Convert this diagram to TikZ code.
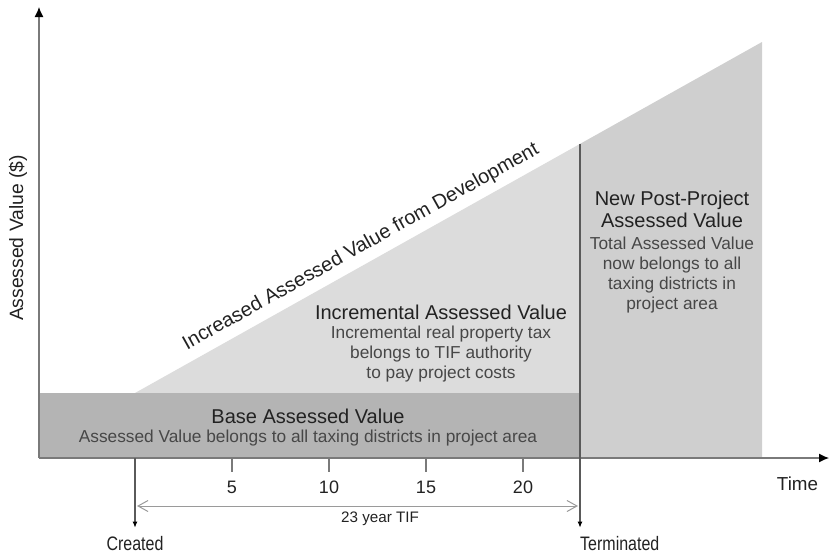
\documentclass[tikz,border=0pt]{standalone}
\usepackage{fontspec}
\setmainfont{Liberation Sans}
\newfontfamily\narrowfont[FakeStretch=0.82]{Liberation Sans}
\usetikzlibrary{arrows.meta}

\definecolor{baseGray}{HTML}{B4B4B4}
\definecolor{incrGray}{HTML}{DCDCDC}
\definecolor{postGray}{HTML}{CFCFCF}
\definecolor{axisGray}{HTML}{7A7A7A}
\definecolor{markGray}{HTML}{5A5A5A}
\definecolor{dimGray}{HTML}{9A9A9A}
\definecolor{textDark}{HTML}{222222}
\definecolor{textSoft}{HTML}{474747}

\begin{document}
\begin{tikzpicture}[
    x=1pt, y=-1pt,
    titlenode/.style={font=\fontsize{20}{22}\selectfont, text=textDark, align=center, inner sep=0pt},
    notenode/.style={font=\fontsize{17.3}{20}\selectfont, text=textSoft, align=center, inner sep=0pt},
    ticknode/.style={font=\fontsize{18}{20}\selectfont, text=textDark, inner sep=0pt},
    eventnode/.style={font=\narrowfont\fontsize{19.5}{22}\selectfont, text=textDark, inner sep=0pt},
    axisline/.style={axisGray, line width=1.2pt},
    markline/.style={markGray, line width=1.1pt, -{Latex[length=6pt, width=5pt, color=black]}}
]
\useasboundingbox (0,0) rectangle (829,557);

% Key points
\coordinate (origin) at (39,458);
\coordinate (ytop) at (39,7);
\coordinate (xend) at (829,458);
\coordinate (start) at (135,458);
\coordinate (peak) at (580,143.9);
\coordinate (tifstart) at (137,506);
\coordinate (tifend) at (578,506);

% Value areas
\fill[incrGray] (135,393) -- (peak) -- (580,393) -- cycle;
\fill[postGray] (peak) -- (762,42) -- (762,458) -- (580,458) -- cycle;
\fill[baseGray] (39,393) rectangle (580,458);

% Axes
\draw[axisline, -{Latex[length=10pt, width=9pt, color=black]}] (origin) -- (ytop);
\draw[axisline, -{Latex[length=10pt, width=9pt, color=black]}] (origin) -- (xend);

% Year ticks
\foreach \x/\yr in {232/5, 329/10, 426/15, 523/20} {
    \draw[axisline] (\x,458) -- (\x,472);
    \node[ticknode] (tick\yr) at (\x,487) {\yr};
}

% Axis labels
\node[ticknode, font=\fontsize{18.8}{20}\selectfont] (timelabel) at (797.5,484) {Time};
\node[ticknode, font=\fontsize{19.3}{20}\selectfont, rotate=90] (valuelabel) at (18,238) {Assessed Value (\$)};

% Created / Terminated
\node[eventnode] (created) at (135,544) {Created};
\node[eventnode, anchor=west] (terminated) at (580,544) {Terminated};
\draw[markline] (start) -- ([yshift=9pt]created.north);
\draw[markline] (peak) -- ([yshift=9pt]terminated.north west);

% TIF period
\draw[dimGray, line width=1pt, {Straight Barb[length=10pt, width=11pt]}-{Straight Barb[length=10pt, width=11pt]}] (tifstart) -- (tifend);
\node[ticknode, font=\fontsize{15.2}{17}\selectfont] (tiflabel) at (380,518.5) {23 year TIF};

% Area texts
\node[titlenode, rotate=29.2] (risenote) at (361,247) {Increased Assessed Value from Development};
\node[titlenode] (basetitle) at (308,416) {Base Assessed Value};
\node[notenode] (basenote) at (308,438.3) {Assessed Value belongs to all taxing districts in project area};
\node[titlenode] (incrtitle) at (441,312) {Incremental Assessed Value};
\node[notenode] (incrnote) at (441,353.7) {Incremental real property tax\\belongs to TIF authority\\to pay project costs};
\node[titlenode] (posttitle) at (672,209) {New Post-Project\\Assessed Value};
\node[notenode] (postnote) at (672,274.7) {Total Assessed Value\\now belongs to all\\taxing districts in\\project area};

\end{tikzpicture}
\end{document}
